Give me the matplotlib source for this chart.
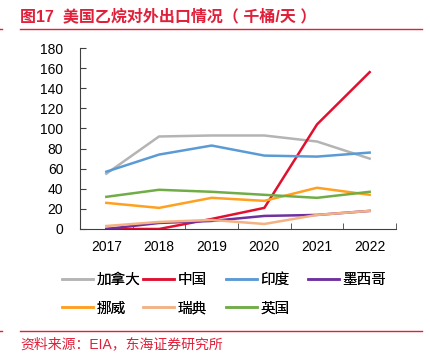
import numpy as np
import matplotlib.pyplot as plt
from matplotlib.lines import Line2D

plt.rcParams['font.family'] = ['Liberation Sans', 'Noto Sans CJK SC', 'DejaVu Sans']

# 美国乙烷对外出口情况 (千桶/天)
years = ['2017', '2018', '2019', '2020', '2021', '2022']
canada = [55, 92, 93, 93, 87, 70]
china = [0, 0, 10, 21, 104, 156]
india = [57, 74, 83, 73, 72, 76]
mexico = [0, 6, 8, 13, 14, 18]
norway = [26, 21, 31, 28, 41, 34]
sweden = [3, 7, 9, 5, 14, 18]
uk = [32, 39, 37, 34, 31, 37]

series = [
    ('加拿大', canada, '#B4B4B4'),
    ('中国', china, '#E0102F'),
    ('印度', india, '#5B9BD5'),
    ('墨西哥', mexico, '#7030A0'),
    ('挪威', norway, '#FFA020'),
    ('瑞典', sweden, '#F4B183'),
    ('英国', uk, '#70AD47'),
]

red = '#E0203A'
fig = plt.figure(figsize=(4.31, 3.62), dpi=100)
ax = fig.add_axes([80 / 431, 1 - 229 / 362, 316 / 431, 181 / 362])

x = np.arange(len(years))
for name, vals, col in series:
    ax.plot(x, vals, color=col, lw=1.8, label=name)

ax.set_xlim(-0.5, len(years) - 0.5)
ax.set_ylim(0, 180)
ax.set_yticks(range(0, 181, 20))
ax.set_xticks(x)
ax.set_xticklabels(years)
ax.set_xticks(np.arange(-0.5, len(years)), minor=True)
ax.tick_params(axis='x', which='major', length=0, pad=8, labelsize=10)
ax.tick_params(axis='x', which='minor', direction='in', length=4, color='#404040')
ax.tick_params(axis='y', direction='in', length=4, labelsize=10, pad=12, color='#404040')
for s in ['top', 'right']:
    ax.spines[s].set_visible(False)
for s in ['left', 'bottom']:
    ax.spines[s].set_color('#404040')

# legend: 4 equal-width columns, filled row by row
col_x = [62, 143, 226, 308]
for c in range(4):
    idx = [i for i in (c, c + 4) if i < len(series)]
    hs = [Line2D([], [], color=series[i][2], lw=1.8) for i in idx]
    ls = [series[i][0] for i in idx]
    leg = fig.legend(hs, ls, loc='upper left', bbox_to_anchor=(col_x[c] / 431, 1 - 273 / 362),
                     frameon=False, fontsize=10.5, handlelength=2.1, handletextpad=0.25,
                     labelspacing=1.0, borderpad=0, borderaxespad=0)
    fig.add_artist(leg)

fig.text(20 / 431, 1 - 17 / 362, '图17  美国乙烷对外出口情况（ 千桶/天 ）', color=red,
         fontsize=11.5, fontweight='bold', va='center', ha='left')
fig.add_artist(Line2D([20 / 431, 422 / 431], [1 - 29 / 362] * 2, color=red, lw=1))
fig.add_artist(Line2D([0, 2 / 431], [1 - 29 / 362] * 2, color=red, lw=1))
fig.add_artist(Line2D([20 / 431, 422 / 431], [1 - 331 / 362] * 2, color=red, lw=1))
fig.add_artist(Line2D([0, 2 / 431], [1 - 331 / 362] * 2, color=red, lw=1))
fig.text(20 / 431, 1 - 344 / 362, '资料来源：EIA，东海证券研究所', color=red,
         fontsize=10, va='center', ha='left')

fig.savefig('out.png', dpi=100)
